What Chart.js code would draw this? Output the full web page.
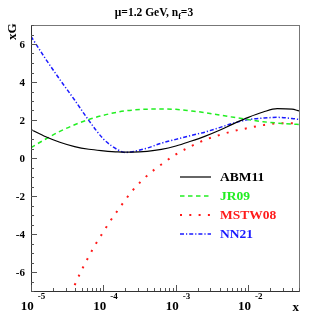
<!DOCTYPE html>
<html>
<head>
<meta charset="utf-8">
<script src="https://cdn.jsdelivr.net/npm/chart.js@4/dist/chart.umd.min.js"></script>
<style>
  body { margin: 0; background: #fff; }
  canvas { display: block; }
</style>
</head>
<body>
<canvas id="gluonChart" width="315" height="315"></canvas>
<script>
// x grid (at these points)
var xGrid = [1e-5, 1.6e-5, 2.5e-5, 4e-5, 6.3e-5, 1e-4, 1.6e-4, 2e-4, 2.5e-4, 4e-4, 6.3e-4,
             1e-3, 1.6e-3, 2.5e-3, 4e-3, 6.3e-3, 1e-2, 1.6e-2, 2.5e-2, 4e-2, 5e-2];

var abm11 = [1.5, 1.12, 0.83, 0.6, 0.46, 0.38, 0.32, 0.31, 0.31, 0.35, 0.45,
             0.63, 0.88, 1.14, 1.46, 1.81, 2.14, 2.42, 2.6, 2.57, 2.48];
var jr09 = [0.55, 1.0, 1.4, 1.75, 2.03, 2.25, 2.42, 2.48, 2.52, 2.57, 2.58,
            2.56, 2.48, 2.39, 2.26, 2.14, 2.02, 1.91, 1.84, 1.79, 1.76];
var nn21 = [6.4, 5.2, 4.13, 3.05, 1.97, 1.0, 0.42, 0.29, 0.33, 0.52, 0.78,
            0.98, 1.18, 1.36, 1.6, 1.84, 2.02, 2.1, 2.14, 2.08, 2.03];

// MSTW08 has its own points (it starts below the frame)
var mstwX = [3.2e-5, 4e-5, 5e-5, 6.3e-5, 7.9e-5, 1e-4, 1.26e-4, 1.6e-4, 2.5e-4, 4e-4,
             6.3e-4, 1e-3, 1.6e-3, 2.5e-3, 4e-3, 6.3e-3, 1e-2, 1.6e-2, 2.5e-2, 4e-2, 5e-2];
var mstw08 = [-7.6, -6.7, -5.9, -5.17, -4.5, -3.88, -3.28, -2.72, -1.73, -0.93,
              -0.34, 0.19, 0.61, 0.95, 1.21, 1.42, 1.58, 1.73, 1.82, 1.83, 1.79];

var yTicks = [-6, -4, -2, 0, 2, 4, 6];
var xTicks = [1e-5, 1e-4, 1e-3, 1e-2];
var xExps = ['-5', '-4', '-3', '-2'];
var seriesNames = ['ABM11', 'JR09', 'MSTW08', 'NN21'];

var colors = ['#000000', '#22ee22', '#ff1a1a', '#1a1aff'];
var dashes = [[], [4.5, 3.5], [2, 7.3], [4, 2, 1.2, 2]];
var widths = [1.2, 1.5, 2, 1.5];

function pts(xs, ys) {
    return xs.map(function(x, i) { return { x: x, y: ys[i] }; });
}

var serif = '"Liberation Serif", "DejaVu Serif", serif';

// axes, ticks, labels, title and legend drawn on top
var decorPlugin = {
    id: 'decor',
    afterDraw: function(chart) {
        var ctx = chart.ctx;
        var a = chart.chartArea;
        var sx = chart.scales.x, sy = chart.scales.y;
        ctx.save();

        // frame
        ctx.strokeStyle = '#777';
        ctx.lineWidth = 1;
        ctx.strokeRect(a.left + 0.5, a.top + 0.5, a.right - a.left, a.bottom - a.top);
        ctx.strokeStyle = '#333';
        ctx.beginPath();
        ctx.moveTo(a.left + 0.5, a.top);
        ctx.lineTo(a.left + 0.5, a.bottom + 0.5);
        ctx.lineTo(a.right + 0.5, a.bottom + 0.5);
        ctx.stroke();

        // y ticks (inward)
        ctx.strokeStyle = '#555';
        ctx.beginPath();
        for (var v = -7; v <= 7.001; v += 0.5) {
            var py = Math.round(sy.getPixelForValue(v)) + 0.5;
            var len = (Math.abs(v % 2) < 0.01) ? 6 : 3;
            ctx.moveTo(a.left, py);
            ctx.lineTo(a.left + len, py);
        }
        // x ticks (log, inward)
        for (var e = -5; e <= -2; e++) {
            for (var k = 1; k <= 9; k++) {
                var xv = k * Math.pow(10, e);
                if (xv < 1e-5 || xv > 0.05) continue;
                var px = Math.round(sx.getPixelForValue(xv)) + 0.5;
                var l2 = (k === 1) ? 6 : 3;
                ctx.moveTo(px, a.bottom);
                ctx.lineTo(px, a.bottom - l2);
            }
        }
        ctx.stroke();

        // y tick labels
        ctx.fillStyle = '#000';
        ctx.font = 'bold 11px ' + serif;
        ctx.textAlign = 'right';
        ctx.textBaseline = 'middle';
        yTicks.forEach(function(t) {
            ctx.fillText(String(t), 25, sy.getPixelForValue(t) + 1);
        });

        // x tick labels 10^n
        ctx.textBaseline = 'alphabetic';
        xTicks.forEach(function(t, i) {
            ctx.font = 'bold 13px ' + serif;
            var w1 = ctx.measureText('10').width;
            ctx.font = 'bold 9px ' + serif;
            var w2 = ctx.measureText(xExps[i]).width;
            var cx = sx.getPixelForValue(t) + 2;
            var x0 = cx - (w1 + 4 + w2) / 2;
            ctx.textAlign = 'left';
            ctx.font = 'bold 13px ' + serif;
            ctx.fillText('10', x0, 310);
            ctx.font = 'bold 9px ' + serif;
            ctx.fillText(xExps[i], x0 + w1 + 4, 299);
        });

        // axis titles
        ctx.font = 'bold 13px ' + serif;
        ctx.textAlign = 'right';
        ctx.fillText('x', 299, 311);
        ctx.save();
        ctx.translate(16, 40);
        ctx.rotate(-Math.PI / 2);
        ctx.textAlign = 'left';
        ctx.fillText('xG', 0, 0);
        ctx.restore();

        // title with subscript
        var t1 = '\u03bc=1.2 GeV, n', t2 = 'f', t3 = '=3';
        ctx.font = 'bold 11.5px ' + serif;
        var w1 = ctx.measureText(t1).width, w3 = ctx.measureText(t3).width;
        ctx.font = 'bold 8px ' + serif;
        var w2 = ctx.measureText(t2).width;
        var tx = 154 - (w1 + w2 + w3) / 2;
        ctx.textAlign = 'left';
        ctx.font = 'bold 11.5px ' + serif;
        ctx.fillText(t1, tx, 16);
        ctx.font = 'bold 8px ' + serif;
        ctx.fillText(t2, tx + w1, 19);
        ctx.font = 'bold 11.5px ' + serif;
        ctx.fillText(t3, tx + w1 + w2, 16);

        // legend
        ctx.textBaseline = 'middle';
        seriesNames.forEach(function(name, i) {
            var ly = 177 + i * 19;
            ctx.strokeStyle = colors[i];
            ctx.lineWidth = widths[i];
            ctx.setLineDash(dashes[i]);
            ctx.beginPath();
            ctx.moveTo(180, ly);
            ctx.lineTo(211, ly);
            ctx.stroke();
            ctx.setLineDash([]);
            ctx.fillStyle = colors[i];
            ctx.font = 'bold 13.5px ' + serif;
            ctx.fillText(name, 220, ly + 1);
        });
        ctx.restore();
    }
};

var ctx = document.getElementById('gluonChart').getContext('2d');
var myChart = new Chart(ctx, {
    type: 'line',
    data: {
        datasets: [
            { label: seriesNames[0], data: pts(xGrid, abm11) },
            { label: seriesNames[1], data: pts(xGrid, jr09) },
            { label: seriesNames[2], data: pts(mstwX, mstw08) },
            { label: seriesNames[3], data: pts(xGrid, nn21) }
        ].map(function(d, i) {
            d.borderColor = colors[i];
            d.backgroundColor = colors[i];
            d.borderWidth = widths[i];
            d.borderDash = dashes[i];
            d.pointRadius = 0;
            d.fill = false;
            d.cubicInterpolationMode = 'monotone';
            return d;
        })
    },
    options: {
        responsive: false,
        animation: false,
        layout: { padding: { left: 31, top: 25, right: 16, bottom: 24 } },
        plugins: { legend: { display: false }, tooltip: { enabled: false } },
        scales: {
            x: { type: 'logarithmic', min: 1e-5, max: 0.05, display: false },
            y: { type: 'linear', min: -7, max: 7, display: false }
        }
    },
    plugins: [decorPlugin]
});
</script>
</body>
</html>
